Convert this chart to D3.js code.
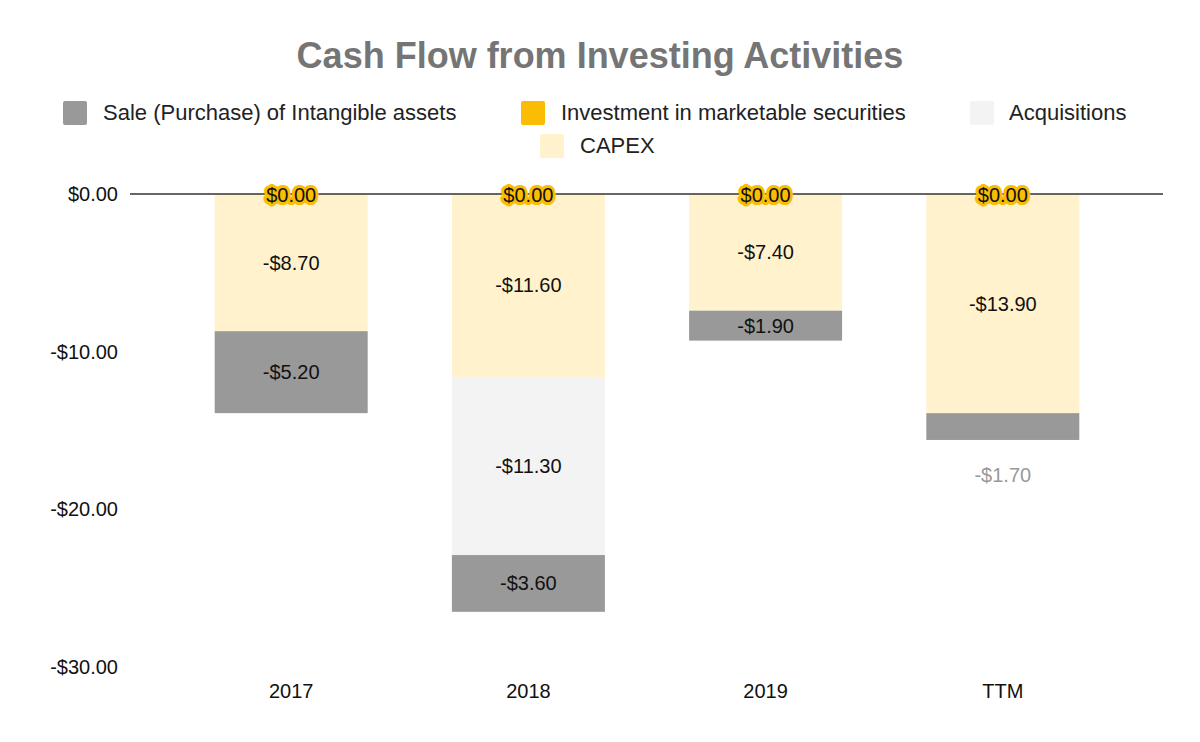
<!DOCTYPE html>
<html><head><meta charset="utf-8">
<script src="https://cdn.jsdelivr.net/npm/d3@7"></script>
<style>body{margin:0;background:#fff}text{font-family:"Liberation Sans",Arial,sans-serif}</style>
</head><body><svg id="c" width="1200" height="742"></svg>
<script>
const categories = ['2017', '2018', '2019', 'TTM'];
const capex = [-8.7, -11.6, -7.4, -13.9];
const acquisitions = [0, -11.3, 0, 0];
const intangible = [-5.2, -3.6, -1.9, -1.7];
const marketable = [0, 0, 0, 0];
const yTicks = [0, -10, -20, -30];

const series = [
  {name: 'Investment in marketable securities', vals: marketable, color: '#fbbc04'},
  {name: 'CAPEX', vals: capex, color: '#fff2cc'},
  {name: 'Acquisitions', vals: acquisitions, color: '#f3f3f3'},
  {name: 'Sale (Purchase) of Intangible assets', vals: intangible, color: '#999999'}
];

const svg = d3.select('#c');
const x = d3.scaleBand().domain(categories).range([172, 1122]).paddingInner(0.355).paddingOuter(0.18);
const y = d3.scaleLinear().domain([-30, 0]).range([667, 194]);
const fmt = v => (v < 0 ? '-$' : '$') + Math.abs(v).toFixed(2);

svg.append('text').attr('x', 600).attr('y', 68).attr('text-anchor', 'middle')
  .attr('font-size', 36).attr('font-weight', 'bold').attr('fill', '#757575')
  .text('Cash Flow from Investing Activities');

const legend = [
  {name: 'Sale (Purchase) of Intangible assets', color: '#999999', sx: 63, tx: 103, y: 112},
  {name: 'Investment in marketable securities', color: '#fbbc04', sx: 521, tx: 561, y: 112},
  {name: 'Acquisitions', color: '#f3f3f3', sx: 970, tx: 1009, y: 112},
  {name: 'CAPEX', color: '#fff2cc', sx: 540, tx: 580, y: 145}
];
legend.forEach(l => {
  svg.append('rect').attr('x', l.sx).attr('y', l.y - 11).attr('width', 24).attr('height', 24).attr('rx', 2).attr('fill', l.color);
  svg.append('text').attr('x', l.tx).attr('y', l.y + 8).attr('font-size', 22).attr('fill', '#222').text(l.name);
});

svg.append('g').selectAll('text').data(yTicks).join('text')
  .attr('x', 118).attr('y', d => y(d) + 7).attr('text-anchor', 'end')
  .attr('font-size', 20).attr('fill', '#111').text(fmt);

svg.append('g').selectAll('text').data(categories).join('text')
  .attr('x', d => x(d) + x.bandwidth() / 2).attr('y', 698).attr('text-anchor', 'middle')
  .attr('font-size', 20).attr('fill', '#111').text(d => d);

const gBars = svg.append('g');
const gLab = svg.append('g');
categories.forEach((c, i) => {
  let base = 0;
  series.forEach(s => {
    const v = s.vals[i];
    const top = base, bot = base + v;
    base = bot;
    if (v !== 0) {
      gBars.append('rect').attr('x', x(c)).attr('width', x.bandwidth())
        .attr('y', y(top)).attr('height', y(bot) - y(top)).attr('fill', s.color);
      const h = y(bot) - y(top);
      const outside = h < 28;
      gLab.append('text').attr('x', x(c) + x.bandwidth() / 2)
        .attr('y', outside ? y(bot) + 42 : (y(top) + y(bot)) / 2 + 7)
        .attr('text-anchor', 'middle').attr('font-size', 20)
        .attr('fill', outside ? '#999' : '#111').text(fmt(v));
    } else if (s.name === 'Investment in marketable securities') {
      gLab.append('text').attr('x', x(c) + x.bandwidth() / 2).attr('y', y(0) + 8)
        .attr('text-anchor', 'middle').attr('font-size', 20)
        .attr('fill', '#111').attr('stroke', '#fbbc04').attr('stroke-width', 6)
        .attr('stroke-linejoin', 'round').attr('paint-order', 'stroke').text(fmt(0));
    }
  });
});

svg.append('line').attr('x1', 130).attr('x2', 1163).attr('y1', y(0)).attr('y2', y(0))
  .attr('stroke', '#333').attr('stroke-width', 1.3);
gLab.raise();
</script></body></html>
